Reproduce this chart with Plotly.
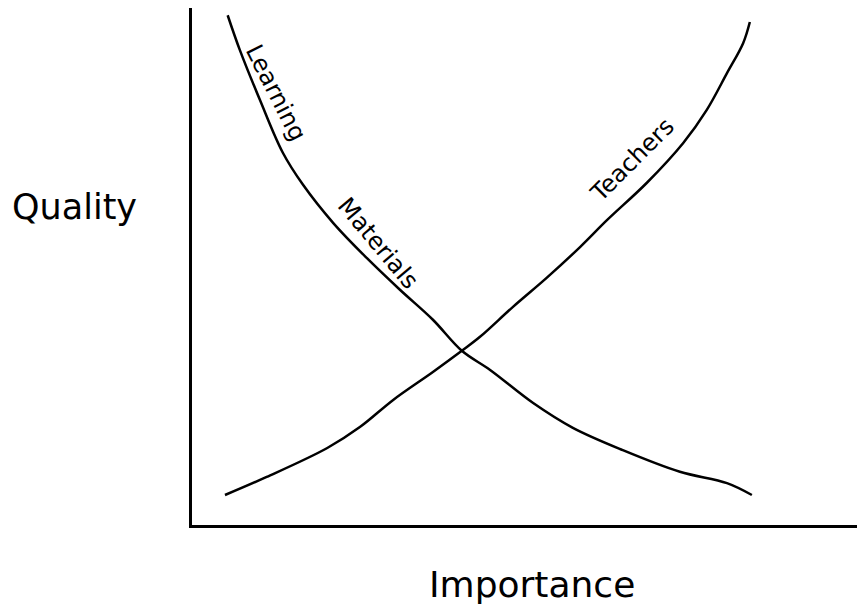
import plotly.graph_objects as go

# values, on a 0-100 scale for both axes
materials_x = [5.3, 7.1, 10.1, 13.5, 16.5, 21.0, 26.0, 30.9, 35.8, 40.1, 44.3, 50.7, 56.6, 64.0, 72.5, 79.5, 83.2]
materials_y = [98.6, 91.9, 82.2, 72.0, 65.8, 58.4, 51.6, 45.5, 39.7, 33.7, 30.0, 23.6, 18.8, 14.5, 10.3, 8.1, 5.8]

teachers_x = [4.9, 11.1, 20.1, 25.0, 29.9, 35.8, 40.1, 42.8, 47.7, 52.7, 57.7, 61.7, 67.6, 73.0, 76.5, 79.5, 81.9, 82.9]
teachers_y = [5.8, 9.3, 14.9, 19.0, 24.2, 29.6, 33.7, 36.4, 42.2, 47.8, 53.8, 59.0, 66.2, 73.9, 80.3, 87.4, 93.2, 97.3]

x_label = "Importance"
y_label = "Quality"

FONT = "DejaVu Sans"

fig = go.Figure()
for xs, ys in [(materials_x, materials_y), (teachers_x, teachers_y)]:
    fig.add_trace(go.Scatter(x=xs, y=ys, mode="lines",
                             line=dict(color="black", width=2.5, shape="spline", smoothing=1.0),
                             hoverinfo="skip", showlegend=False))

# curve labels written along the lines
curve_labels = [
    ("Learning", 12.5, 83.6, 63),
    ("Materials", 27.6, 54.5, 50),
    ("Teachers", 65.4, 70.6, -45),
]
for text, ax, ay, ang in curve_labels:
    fig.add_annotation(x=ax, y=ay, xref="x", yref="y", text=text, textangle=ang,
                       showarrow=False, font=dict(family=FONT, size=24, color="black"))

# axis labels placed by hand, like the drawing
fig.add_annotation(x=-0.172, y=0.615, xref="paper", yref="paper", text=y_label,
                   xanchor="center", yanchor="middle",
                   showarrow=False, font=dict(family=FONT, size=35, color="black"))
fig.add_annotation(x=0.499, y=-0.115, xref="paper", yref="paper", text=x_label,
                   xanchor="center", yanchor="middle",
                   showarrow=False, font=dict(family=FONT, size=36, color="black"))

axis_style = dict(showline=True, linecolor="black", linewidth=3, showgrid=False,
                  zeroline=False, showticklabels=False, ticks="", fixedrange=True)
# x axis runs on past 100 so its line reaches the right edge of the window
fig.update_xaxes(range=[0, 101.2], **axis_style)
fig.update_yaxes(range=[0, 100], **axis_style)

# the page adds 8px of body margin, so the margins are shifted by that much
fig.update_layout(
    width=865, height=607,
    margin=dict(l=184, r=0, t=0, b=90),
    plot_bgcolor="white", paper_bgcolor="white",
)

fig.write_html("out.html")
